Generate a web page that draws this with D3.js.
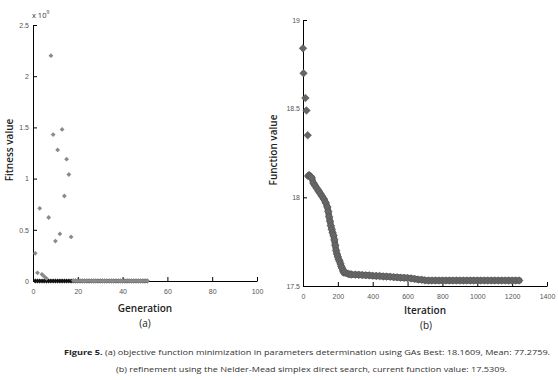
<!DOCTYPE html>
<html>
<head>
<meta charset="utf-8">
<script src="https://cdn.jsdelivr.net/npm/d3@7"></script>
<style>
  body { margin: 0; background: #fff; }
  svg { display: block; font-family: "Open Sans", sans-serif; }
  .tick text { fill: #555; font-size: 7px; }
  .tick line, .domain { stroke: #000; }
</style>
</head>
<body>
<svg width="558" height="380"></svg>
<script>
// (a) GA fitness per generation (units of 1e9)
var generations = [1,2,3,4,5,6,7,8,9,10,11,12,13,14,15,16,17,18,19,20,21,22,23,24,25,26,
  27,28,29,30,31,32,33,34,35,36,37,38,39,40,41,42,43,44,45,46,47,48,49,50,51];
var bestFitness = [0,0,0,0,0,0,0,0,0,0,0,0,0,0,0,0,0,0,0,0,0,0,0,0,0,0,
  0,0,0,0,0,0,0,0,0,0,0,0,0,0,0,0,0,0,0,0,0,0,0,0,0];
var meanFitness = [0.27,0.08,0.71,0.065,0.045,0.025,0.62,2.2,1.43,0.39,1.28,0.46,1.48,0.83,1.19,1.04,0.43,
  0.004,0.003,0.002,0.002,0.001,0.001,0.001,0.001,0.001,0.001,0.001,0.001,0.001,0.001,0.001,0.001,0.001,
  0.001,0.001,0.001,0.001,0.001,0.001,0.001,0.001,0.001,0.001,0.001,0.001,0.001,0.001,0.001,0.001,0.001];
var genTicks = [0,20,40,60,80,100];
var fitTicks = [0,0.5,1,1.5,2,2.5];

// (b) Nelder-Mead function value per iteration
var iterations = [0,3,14,20,27,30,35,40,45,50,60,70,80,90,100,110,120,130,140,145,150,155,160,165,170,175,
  180,185,190,195,200,205,210,215,220,225,230,235,240,250,260,270,280,300,320,340,360,380,400,420,440,460,
  480,500,520,540,560,580,600,620,640,660,680,700,720,740,760,780,800,820,840,860,880,900,920,940,960,980,
  1000,1020,1040,1060,1080,1100,1120,1140,1160,1180,1200,1220,1240];
var funcValues = [18.84,18.70,18.56,18.49,18.35,18.12,18.125,18.12,18.115,18.11,18.08,18.065,18.05,18.035,18.02,
  18.005,17.99,17.97,17.945,17.92,17.89,17.865,17.84,17.82,17.80,17.785,17.76,17.73,17.70,17.68,17.665,17.65,
  17.64,17.625,17.61,17.60,17.585,17.575,17.578,17.572,17.568,17.566,17.565,17.564,17.563,17.562,17.561,17.56,
  17.558,17.557,17.556,17.554,17.553,17.552,17.55,17.549,17.547,17.546,17.545,17.543,17.54,17.537,17.535,17.532,
  17.531,17.531,17.531,17.531,17.531,17.531,17.531,17.531,17.531,17.531,17.531,17.531,17.531,17.531,17.531,
  17.531,17.531,17.531,17.531,17.531,17.531,17.531,17.531,17.531,17.531,17.531,17.531];
var iterTicks = [0,200,400,600,800,1000,1200,1400];
var funcTicks = [17.5,18,18.5,19];

var captionLines = [
  ["Figure 5.", " (a) objective function minimization in parameters determination using GAs Best: 18.1609, Mean: 77.2759."],
  ["", "(b) refinement using the Nelder-Mead simplex direct search, current function value: 17.5309."]
];

var svg = d3.select("svg");

function diamond(r) {
  return "M0," + (-r) + "L" + r + ",0L0," + r + "L" + (-r) + ",0Z";
}

// ---------- chart (a)
var xA = d3.scaleLinear().domain([0, 100]).range([33, 257]);
var yA = d3.scaleLinear().domain([0, 2.5]).range([281, 25]);

var gA = svg.append("g");
gA.append("g")
  .attr("transform", "translate(0," + yA(0) + ")")
  .call(d3.axisBottom(xA).tickValues(genTicks).tickSizeInner(-4).tickSizeOuter(0).tickPadding(8)
    .tickFormat(d3.format("")));
gA.append("g")
  .attr("transform", "translate(" + xA(0) + ",0)")
  .call(d3.axisLeft(yA).tickValues(fitTicks).tickSizeInner(-4).tickSizeOuter(0).tickPadding(4)
    .tickFormat(d3.format("")));

gA.selectAll(".best").data(generations).enter().append("path")
  .attr("class", "best")
  .attr("transform", function(d, i) { return "translate(" + xA(d) + "," + yA(bestFitness[i]) + ")"; })
  .attr("d", diamond(2.4))
  .attr("fill", "#111");
gA.selectAll(".mean").data(generations).enter().append("path")
  .attr("class", "mean")
  .attr("transform", function(d, i) { return "translate(" + xA(d) + "," + yA(meanFitness[i]) + ")"; })
  .attr("d", diamond(2.4))
  .attr("fill", "#8a8a8a");

var expo = gA.append("text").attr("x", 32).attr("y", 18).attr("font-size", 7.5).attr("fill", "#333");
expo.append("tspan").text("x 10");
expo.append("tspan").attr("dy", -4).attr("font-size", 5).text("9");

gA.append("text").attr("x", 145).attr("y", 312).attr("text-anchor", "middle")
  .attr("font-size", 10).attr("font-weight", 600).attr("fill", "#222").text("Generation");
gA.append("text").attr("x", 145).attr("y", 327).attr("text-anchor", "middle")
  .attr("font-size", 10).attr("fill", "#222").text("(a)");
gA.append("text").attr("transform", "translate(13,150) rotate(-90)").attr("text-anchor", "middle")
  .attr("font-size", 10).attr("font-weight", 600).attr("fill", "#222").text("Fitness value");

// ---------- chart (b)
var xB = d3.scaleLinear().domain([0, 1400]).range([303, 547]);
var yB = d3.scaleLinear().domain([17.5, 19]).range([286, 20]);

var gB = svg.append("g");
gB.append("g")
  .attr("transform", "translate(0," + yB(17.5) + ")")
  .call(d3.axisBottom(xB).tickValues(iterTicks).tickSizeInner(-4).tickSizeOuter(0).tickPadding(8)
    .tickFormat(d3.format("")));
gB.append("g")
  .attr("transform", "translate(" + xB(0) + ",0)")
  .call(d3.axisLeft(yB).tickValues(funcTicks).tickSizeInner(-4).tickSizeOuter(0).tickPadding(3)
    .tickFormat(d3.format("")));

// dense marker band: thick line under the markers (from the 6th point on)
var band = d3.line()
  .x(function(d) { return xB(iterations[d]); })
  .y(function(d) { return yB(funcValues[d]); });
gB.append("path")
  .datum(d3.range(5, iterations.length))
  .attr("d", band)
  .attr("fill", "none")
  .attr("stroke", "#626262")
  .attr("stroke-width", 6.5)
  .attr("stroke-linejoin", "round")
  .attr("stroke-linecap", "round");

gB.selectAll(".fv").data(iterations).enter().append("path")
  .attr("class", "fv")
  .attr("transform", function(d, i) { return "translate(" + xB(d) + "," + yB(funcValues[i]) + ")"; })
  .attr("d", diamond(3.8))
  .attr("fill", "#666")
  .attr("stroke", "#555")
  .attr("stroke-width", 0.6);

gB.append("text").attr("x", 425).attr("y", 314).attr("text-anchor", "middle")
  .attr("font-size", 10).attr("font-weight", 600).attr("fill", "#222").text("Iteration");
gB.append("text").attr("x", 426).attr("y", 329).attr("text-anchor", "middle")
  .attr("font-size", 10).attr("fill", "#222").text("(b)");
gB.append("text").attr("transform", "translate(277,150) rotate(-90)").attr("text-anchor", "middle")
  .attr("font-size", 10).attr("font-weight", 600).attr("fill", "#222").text("Function value");

// ---------- caption
var capX = [64, 116], capY = [354.5, 371.5], capW = [486, 391];
captionLines.forEach(function(line, i) {
  var t = svg.append("text").attr("x", capX[i]).attr("y", capY[i])
    .attr("font-size", 7.2).attr("fill", "#333")
    .attr("textLength", capW[i]).attr("lengthAdjust", "spacingAndGlyphs");
  if (line[0]) t.append("tspan").attr("font-weight", 700).attr("fill", "#222").text(line[0]);
  t.append("tspan").text(line[1]);
});
</script>
</body>
</html>
